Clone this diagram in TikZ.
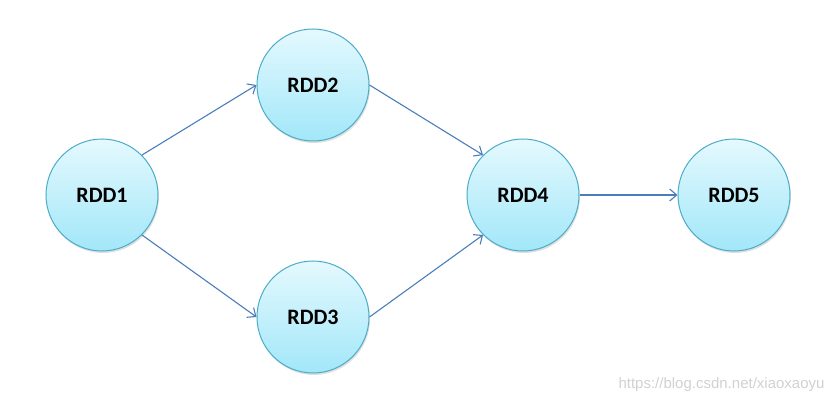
\documentclass[tikz,border=0pt]{standalone}
\usepackage{fontspec}
\setmainfont{Carlito}
\newfontfamily\wmfont{Liberation Sans}
\usetikzlibrary{shadows, positioning, arrows.meta}
\definecolor{rddtop}{HTML}{E4F9FE}
\definecolor{rddbot}{HTML}{A2E7F9}
\definecolor{rddline}{HTML}{4BACC6}
\definecolor{linkcol}{HTML}{4A7EBB}

\begin{document}
\begin{tikzpicture}[
    x=1pt, y=-1pt,
    ]
    \tikzstyle{rdd}=[circle, draw = rddline, line width = 1pt, top color = rddtop, bottom color = rddbot, minimum size = 112pt, inner sep = 0pt, font = \fontsize{22}{26}\selectfont\bfseries, drop shadow = {shadow xshift = 1pt, shadow yshift = -2pt, opacity = 0.25}]
    \tikzstyle{link}=[draw = linkcol, line width = 1.1pt, -{Straight Barb[length=7pt, width=12pt]}]
    \useasboundingbox (0,0) rectangle (835,406);
    \node[rdd] (R1) at (102,195) {RDD1};
    \node[rdd] (R2) at (313,85) {RDD2};
    \node[rdd] (R3) at (313,317) {RDD3};
    \node[rdd] (R4) at (523,195) {RDD4};
    \node[rdd] (R5) [right=98pt of R4] {RDD5};
    \draw[link] (R1.45) -- (R2.west);
    \draw[link] (R1.-45) -- (R3.west);
    \draw[link] (R2.east) -- (R4.135);
    \draw[link] (R3.east) -- (R4.-135);
    \draw[link] (R4) -- (R5);
    \node[text = black!18, font = \wmfont\fontsize{15}{17}\selectfont, anchor = east] (wm) at (828,385) {https://blog.csdn.net/xiaoxaoyu};
  \end{tikzpicture}
\end{document}
